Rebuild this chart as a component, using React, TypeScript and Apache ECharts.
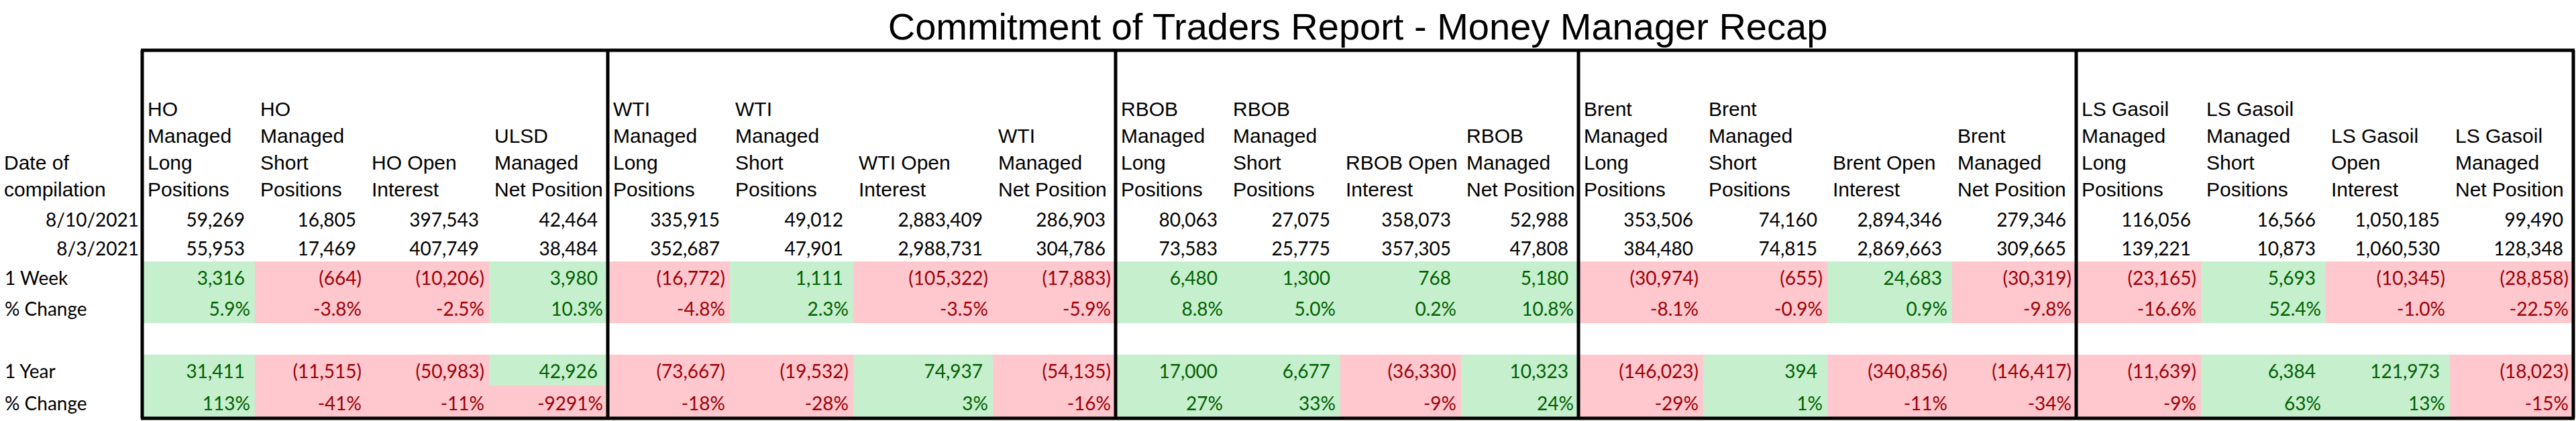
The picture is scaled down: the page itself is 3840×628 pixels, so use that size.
import React, { useEffect, useRef } from 'react';
import * as echarts from 'echarts';

// ---------- text ----------
const TITLE = 'Commitment of Traders Report - Money Manager Recap';
const ROW_LABEL_HEADER = ['Date of', 'compilation'];
const COLUMN_HEADERS: string[][] = [
  ['HO', 'Managed', 'Long', 'Positions'],
  ['HO', 'Managed', 'Short', 'Positions'],
  ['HO Open', 'Interest'],
  ['ULSD', 'Managed', 'Net Position'],
  ['WTI', 'Managed', 'Long', 'Positions'],
  ['WTI', 'Managed', 'Short', 'Positions'],
  ['WTI Open', 'Interest'],
  ['WTI', 'Managed', 'Net Position'],
  ['RBOB', 'Managed', 'Long', 'Positions'],
  ['RBOB', 'Managed', 'Short', 'Positions'],
  ['RBOB Open', 'Interest'],
  ['RBOB', 'Managed', 'Net Position'],
  ['Brent', 'Managed', 'Long', 'Positions'],
  ['Brent', 'Managed', 'Short', 'Positions'],
  ['Brent Open', 'Interest'],
  ['Brent', 'Managed', 'Net Position'],
  ['LS Gasoil', 'Managed', 'Long', 'Positions'],
  ['LS Gasoil', 'Managed', 'Short', 'Positions'],
  ['LS Gasoil', 'Open', 'Interest'],
  ['LS Gasoil', 'Managed', 'Net Position'],
];
const DATES = ['8/10/2021', '8/3/2021'];
const WEEK_LABELS = ['1 Week', '% Change'];
const YEAR_LABELS = ['1 Year', '% Change'];

// ---------- values ----------
const LATEST = [59269, 16805, 397543, 42464, 335915, 49012, 2883409, 286903, 80063, 27075, 358073, 52988, 353506, 74160, 2894346, 279346, 116056, 16566, 1050185, 99490];
const PRIOR = [55953, 17469, 407749, 38484, 352687, 47901, 2988731, 304786, 73583, 25775, 357305, 47808, 384480, 74815, 2869663, 309665, 139221, 10873, 1060530, 128348];
const WEEK_CHANGE = [3316, -664, -10206, 3980, -16772, 1111, -105322, -17883, 6480, 1300, 768, 5180, -30974, -655, 24683, -30319, -23165, 5693, -10345, -28858];
const WEEK_PCT = [5.9, -3.8, -2.5, 10.3, -4.8, 2.3, -3.5, -5.9, 8.8, 5.0, 0.2, 10.8, -8.1, -0.9, 0.9, -9.8, -16.6, 52.4, -1.0, -22.5];
const YEAR_CHANGE = [31411, -11515, -50983, 42926, -73667, -19532, 74937, -54135, 17000, 6677, -36330, 10323, -146023, 394, -340856, -146417, -11639, 6384, 121973, -18023];
const YEAR_PCT = [113, -41, -11, -9291, -18, -28, 3, -16, 27, 33, -9, 24, -29, 1, -11, -34, -9, 63, 13, -15];

// ---------- layout (pixel grid positions) ----------
const W = 3840;
const H = 628;
const COL_EDGES = [0, 212, 380, 546, 729, 906, 1088, 1272, 1480, 1663, 1830, 1998, 2178, 2353, 2539, 2724, 2910, 3095, 3281, 3467, 3652, 3836];
const ROW_EDGES = [75, 304, 348, 390, 436, 482, 529, 575, 624];
const GROUP_EDGE_COLS = [1, 5, 9, 13, 17, 21];

const FONT_HEAD = 'Liberation Sans, Arial, sans-serif';
const FONT_NUM = 'Lato, Liberation Sans, sans-serif';
const GOOD_FILL = '#C6EFCE';
const GOOD_TEXT = '#006100';
const BAD_FILL = '#FFC7CE';
const BAD_TEXT = '#9C0006';

type Cell = {
  col: number;
  row: number;
  kind: 'header' | 'label' | 'date' | 'num' | 'signed' | 'pct';
  lines?: string[];
  text?: string;
  value?: number;
};

const fmtNum = (v: number) => {
  const s = Math.abs(v).toLocaleString('en-US');
  return v < 0 ? `(${s})` : s;
};

function buildCells(): Cell[] {
  const cells: Cell[] = [];
  cells.push({ col: 0, row: 0, kind: 'header', lines: ROW_LABEL_HEADER });
  cells.push({ col: 0, row: 1, kind: 'date', text: DATES[0] });
  cells.push({ col: 0, row: 2, kind: 'date', text: DATES[1] });
  cells.push({ col: 0, row: 3, kind: 'label', text: WEEK_LABELS[0] });
  cells.push({ col: 0, row: 4, kind: 'label', text: WEEK_LABELS[1] });
  cells.push({ col: 0, row: 6, kind: 'label', text: YEAR_LABELS[0] });
  cells.push({ col: 0, row: 7, kind: 'label', text: YEAR_LABELS[1] });
  COLUMN_HEADERS.forEach((lines, i) => {
    const col = i + 1;
    cells.push({ col, row: 0, kind: 'header', lines });
    cells.push({ col, row: 1, kind: 'num', value: LATEST[i], text: fmtNum(LATEST[i]) });
    cells.push({ col, row: 2, kind: 'num', value: PRIOR[i], text: fmtNum(PRIOR[i]) });
    cells.push({ col, row: 3, kind: 'signed', value: WEEK_CHANGE[i], text: fmtNum(WEEK_CHANGE[i]) });
    cells.push({ col, row: 4, kind: 'pct', value: WEEK_PCT[i], text: WEEK_PCT[i].toFixed(1) + '%' });
    cells.push({ col, row: 6, kind: 'signed', value: YEAR_CHANGE[i], text: fmtNum(YEAR_CHANGE[i]) });
    cells.push({ col, row: 7, kind: 'pct', value: YEAR_PCT[i], text: YEAR_PCT[i].toFixed(0) + '%' });
  });
  return cells;
}

export default function App() {
  const ref = useRef<HTMLDivElement>(null);

  useEffect(() => {
    document.body.style.margin = '0';
    if (!ref.current) return;
    const chart = echarts.init(ref.current, undefined, { renderer: 'svg' });
    const cells = buildCells();

    const borders: number[][] = [];
    GROUP_EDGE_COLS.forEach((c) => borders.push([COL_EDGES[c], ROW_EDGES[0], COL_EDGES[c], ROW_EDGES[ROW_EDGES.length - 1]]));
    borders.push([COL_EDGES[1] - 2, ROW_EDGES[0], COL_EDGES[COL_EDGES.length - 1] + 2, ROW_EDGES[0]]);
    borders.push([COL_EDGES[1] - 2, ROW_EDGES[ROW_EDGES.length - 1], COL_EDGES[COL_EDGES.length - 1] + 2, ROW_EDGES[ROW_EDGES.length - 1]]);

    const option: any = {
      animation: false,
      backgroundColor: '#ffffff',
      grid: { left: 0, right: 0, top: 0, bottom: 0 },
      xAxis: { type: 'value', min: 0, max: W, show: false },
      yAxis: { type: 'value', min: 0, max: H, inverse: true, show: false },
      graphic: [
        {
          type: 'text',
          x: 2024,
          y: 39,
          silent: true,
          style: {
            text: TITLE,
            fontFamily: FONT_HEAD,
            fontSize: 56,
            fill: '#000000',
            align: 'center',
            verticalAlign: 'middle',
          },
        },
      ],
      series: [
        {
          type: 'custom',
          coordinateSystem: 'cartesian2d',
          silent: true,
          clip: false,
          z: 2,
          data: cells.map((c) => [c.col, c.row]),
          renderItem: (params: any, api: any) => {
            const cell = cells[params.dataIndex];
            const tl = api.coord([COL_EDGES[cell.col], ROW_EDGES[cell.row]]);
            const br = api.coord([COL_EDGES[cell.col + 1], ROW_EDGES[cell.row + 1]]);
            const cy = (tl[1] + br[1]) / 2 + 1;
            const children: any[] = [];
            if (cell.kind === 'header') {
              const n = cell.lines!.length;
              const isLabelCol = cell.col === 0;
              cell.lines!.forEach((ln, i) => {
                children.push({
                  type: 'text',
                  x: isLabelCol ? tl[0] + 6 : tl[0] + 8,
                  y: br[1] - 22 - 40 * (n - 1 - i),
                  style: {
                    text: ln,
                    fontFamily: FONT_HEAD,
                    fontSize: 30,
                    fill: '#000000',
                    align: 'left',
                    verticalAlign: 'middle',
                  },
                });
              });
            } else if (cell.kind === 'label') {
              children.push({
                type: 'text',
                x: tl[0] + 7,
                y: cy,
                style: { text: cell.text, fontFamily: FONT_NUM, fontSize: 28, fill: '#000000', align: 'left', verticalAlign: 'middle' },
              });
            } else if (cell.kind === 'date') {
              children.push({
                type: 'text',
                x: br[0] - 5,
                y: cy,
                style: { text: cell.text, fontFamily: FONT_NUM, fontSize: 28, fill: '#000000', align: 'right', verticalAlign: 'middle' },
              });
            } else {
              const v = cell.value as number;
              let fill: string | null = null;
              let color = '#000000';
              if (cell.kind !== 'num') {
                const good = v >= 0;
                fill = good ? GOOD_FILL : BAD_FILL;
                color = good ? GOOD_TEXT : BAD_TEXT;
              }
              if (fill) {
                children.push({
                  type: 'rect',
                  shape: { x: tl[0], y: tl[1], width: br[0] - tl[0], height: br[1] - tl[1] },
                  style: { fill },
                });
              }
              let pad = 15;
              if (cell.kind === 'pct') pad = 7;
              else if (v < 0) pad = 7;
              children.push({
                type: 'text',
                x: br[0] - pad,
                y: cy,
                style: { text: cell.text, fontFamily: FONT_NUM, fontSize: 28, fill: color, align: 'right', verticalAlign: 'middle' },
              });
            }
            return { type: 'group', children };
          },
        },
        {
          type: 'custom',
          coordinateSystem: 'cartesian2d',
          silent: true,
          clip: false,
          z: 5,
          data: borders,
          renderItem: (params: any, api: any) => {
            const p1 = api.coord([api.value(0), api.value(1)]);
            const p2 = api.coord([api.value(2), api.value(3)]);
            return {
              type: 'line',
              shape: { x1: p1[0], y1: p1[1], x2: p2[0], y2: p2[1] },
              style: { stroke: '#000000', lineWidth: 5 },
            };
          },
        },
      ],
    };
    chart.setOption(option);
    return () => chart.dispose();
  }, []);

  return <div ref={ref} style={{ width: W, height: H }} />;
}
